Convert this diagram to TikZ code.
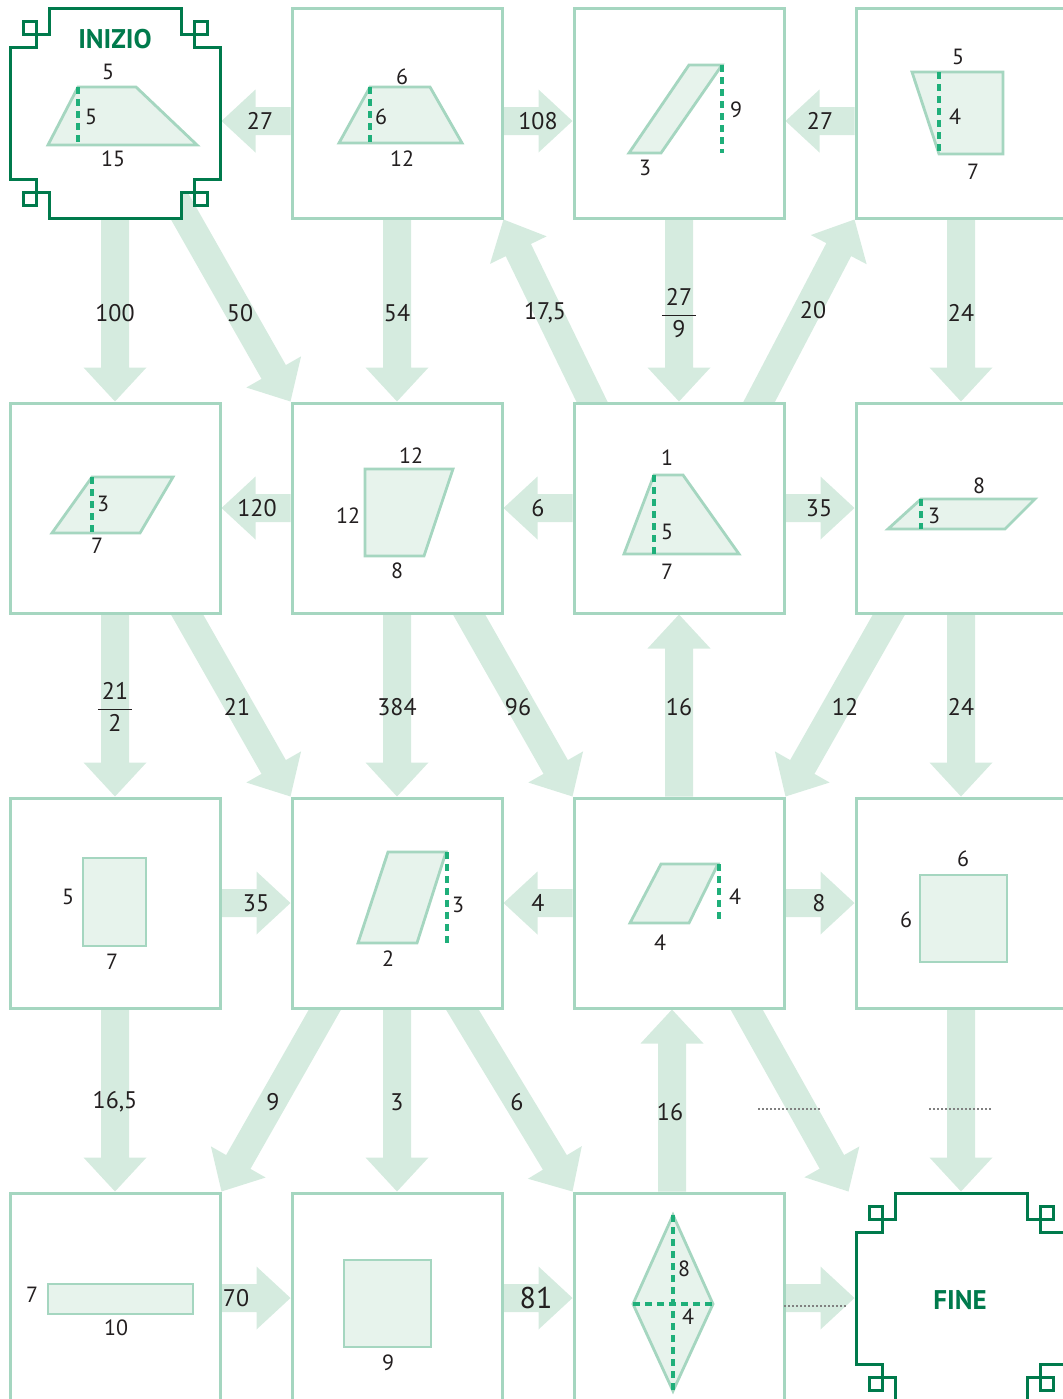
\documentclass[tikz,border=0pt]{standalone}
\usepackage{fontspec}
\setmainfont{PT Sans}
\usetikzlibrary{calc}

\definecolor{boxline}{HTML}{A5D6C0}
\definecolor{arrowbg}{HTML}{D5EBDF}
\definecolor{figfill}{HTML}{E7F3EC}
\definecolor{hgreen}{HTML}{1FAF7A}
\definecolor{darkgreen}{HTML}{007A4C}
\definecolor{ink}{HTML}{231F20}

\pgfdeclarelayer{bg}
\pgfsetlayers{bg,main}

\tikzset{
  box/.style={draw=boxline, line width=1.5pt, fill=white, minimum size=105pt, inner sep=0pt},
  startend/.style={line width=1.5pt, minimum size=105pt, inner sep=0pt},
  keyline/.style={draw=darkgreen, line width=1.5pt},
  keytext/.style={text=darkgreen, font=\bfseries\fontsize{13.5}{15}\selectfont},
  fig/.style={draw=boxline, fill=figfill, line width=1.4pt},
  hgt/.style={draw=hgreen, line width=1.6pt, dash pattern=on 3.5pt off 2.5pt},
  lbl/.style={text=ink, font=\fontsize{11}{13}\selectfont, inner sep=1pt},
  alab/.style={text=ink, font=\fontsize{12}{14}\selectfont, inner sep=1pt},
  blank/.style={draw=gray, line width=1pt, dash pattern=on 1pt off 1pt},
}

% fat arrow: tail, tip
\newcommand\fatarr[2]{%
  \coordinate (ft) at #1;
  \coordinate (fh) at #2;
  \fill[arrowbg] let \p1=($(fh)-(ft)$), \n1={atan2(\y1,\x1)} in
    ($(ft)+(\n1+90:7pt)$) -- ($(fh)+(\n1+180:17pt)+(\n1+90:7pt)$)
    -- ($(fh)+(\n1+180:17pt)+(\n1+90:15.75pt)$) -- (fh)
    -- ($(fh)+(\n1+180:17pt)+(\n1-90:15.75pt)$)
    -- ($(fh)+(\n1+180:17pt)+(\n1-90:7pt)$)
    -- ($(ft)+(\n1-90:7pt)$) -- cycle;
}

% notched frame for start and end
\newcommand\keyframe[1]{%
  \begin{scope}[shift={(#1)}]
    \filldraw[keyline, fill=white] (-105,-66) -- (-79,-66) -- (-79,-79) -- (-66,-79) -- (-66,-105)
      -- (66,-105) -- (66,-79) -- (79,-79) -- (79,-66) -- (105,-66)
      -- (105,66) -- (79,66) -- (79,79) -- (66,79) -- (66,105)
      -- (-66,105) -- (-66,79) -- (-79,79) -- (-79,66) -- (-105,66) -- cycle;
    \foreach \sx/\sy in {-1/-1,1/-1,1/1,-1/1}
      \draw[keyline] (\sx*79,\sy*79) rectangle (\sx*92,\sy*92);
  \end{scope}}

\begin{document}
\begin{tikzpicture}[x=0.5pt, y=-0.5pt]
\useasboundingbox (0,0) rectangle (1063,1399);
\clip (0,0) rectangle (1063,1399);

% boxes
\node[startend] (b00) at (115,113) {};
\node[box] (b01) at (397,113) {};
\node[box] (b02) at (679,113) {};
\node[box] (b03) at (961,113) {};
\node[box] (b10) at (115,508) {};
\node[box] (b11) at (397,508) {};
\node[box] (b12) at (679,508) {};
\node[box] (b13) at (961,508) {};
\node[box] (b20) at (115,903) {};
\node[box] (b21) at (397,903) {};
\node[box] (b22) at (679,903) {};
\node[box] (b23) at (961,903) {};
\node[box] (b30) at (115,1298) {};
\node[box] (b31) at (397,1298) {};
\node[box] (b32) at (679,1298) {};
\node[startend] (b33) at (961,1298) {};
\keyframe{b00}
\keyframe{b33}
\node[keytext] (start) at (115,39) {INIZIO};
\node[keytext] (finish) at (960,1300) {FINE};

% arrows
\begin{pgfonlayer}{bg}
% horizontal
\fatarr{($(b01.west)+(0,8)$)}{($(b00.east)+(0,8)$)}
\fatarr{($(b01.east)+(0,8)$)}{($(b02.west)+(0,8)$)}
\fatarr{($(b03.west)+(0,8)$)}{($(b02.east)+(0,8)$)}
\fatarr{(b11.west)}{(b10.east)}
\fatarr{(b12.west)}{(b11.east)}
\fatarr{(b12.east)}{(b13.west)}
\fatarr{(b20.east)}{(b21.west)}
\fatarr{(b22.west)}{(b21.east)}
\fatarr{(b22.east)}{(b23.west)}
\fatarr{(b30.east)}{(b31.west)}
\fatarr{(b31.east)}{(b32.west)}
\fatarr{(b32.east)}{(b33.west)}
% vertical
\fatarr{(b00.south)}{(b10.north)}
\fatarr{(b10.south)}{(b20.north)}
\fatarr{(b20.south)}{(b30.north)}
\fatarr{(b01.south)}{(b11.north)}
\fatarr{(b11.south)}{(b21.north)}
\fatarr{(b21.south)}{(b31.north)}
\fatarr{(b02.south)}{(b12.north)}
\fatarr{(b22.north)}{(b12.south)}
\fatarr{($(b32.north)+(-7,0)$)}{($(b22.south)+(-7,0)$)}
\fatarr{(b03.south)}{(b13.north)}
\fatarr{(b13.south)}{(b23.north)}
\fatarr{(b23.south)}{(b33.north)}
% diagonal
\fatarr{($(b11.north west)+(-137,-241)$)}{(b11.north west)}
\fatarr{($(b01.south east)+(117,241)$)}{(b01.south east)}
\fatarr{($(b03.south west)+(-126,241)$)}{(b03.south west)}
\fatarr{($(b21.north west)+(-137,-241)$)}{(b21.north west)}
\fatarr{($(b22.north west)+(-137,-241)$)}{(b22.north west)}
\fatarr{($(b22.north east)+(137,-241)$)}{(b22.north east)}
\fatarr{($(b30.north east)+(137,-241)$)}{(b30.north east)}
\fatarr{($(b32.north west)+(-146,-241)$)}{(b32.north west)}
\fatarr{($(b33.north west)+(-141,-241)$)}{($(b33.north west)+(-6,0)$)}
\end{pgfonlayer}

% arrow labels
\node[alab] (a1) at (260,121) {27};
\node[alab] (a2) at (538,121) {108};
\node[alab] (a3) at (820,121) {27};
\node[alab] (a4) at (257,508) {120};
\node[alab] (a5) at (538,508) {6};
\node[alab] (a6) at (819,508) {35};
\node[alab] (a7) at (256,903) {35};
\node[alab] (a8) at (538,903) {4};
\node[alab] (a9) at (819,903) {8};
\node[alab] (a10) at (236,1298) {70};
\node[alab, font=\fontsize{15}{17}\selectfont] (a11) at (536,1298) {81};
\draw[blank] (784,1306) -- (847,1306);
\node[alab] (v1) at (115,313) {100};
\node[alab] (v2) at (240,313) {50};
\node[alab] (v3) at (397,313) {54};
\node[alab] (v4) at (545,313) {17,5};
\node[alab] (v5) at (679,313) {$\displaystyle\frac{\mbox{\,27\,}}{\mbox{9}}$};
\node[alab] (v6) at (813,310) {20};
\node[alab] (v7) at (961,313) {24};
\node[alab] (v8) at (115,707) {$\displaystyle\frac{\mbox{\,21\,}}{\mbox{2}}$};
\node[alab] (v9) at (237,707) {21};
\node[alab] (v10) at (397,707) {384};
\node[alab] (v11) at (518,707) {96};
\node[alab] (v12) at (679,707) {16};
\node[alab] (v13) at (845,707) {12};
\node[alab] (v14) at (961,707) {24};
\node[alab] (v15) at (115,1102) {16,5};
\node[alab] (v16) at (273,1102) {9};
\node[alab] (v17) at (397,1102) {3};
\node[alab] (v18) at (517,1102) {6};
\node[alab] (v19) at (670,1112) {16};
\draw[blank] (758,1109) -- (820,1109);
\draw[blank] (929,1109) -- (991,1109);

% figures, row 0
\filldraw[fig] (78,87) -- (136,87) -- (197,145) -- (48,145) -- cycle;
\draw[hgt] (78,87) -- (78,145);
\node[lbl] (f00a) at (108,72) {5};
\node[lbl] (f00b) at (91,117) {5};
\node[lbl] (f00c) at (113,159) {15};
\filldraw[fig] (370,87) -- (430,87) -- (462,143) -- (339,143) -- cycle;
\draw[hgt] (370,87) -- (370,143);
\node[lbl] (f01a) at (402,77) {6};
\node[lbl] (f01b) at (381,117) {6};
\node[lbl] (f01c) at (402,159) {12};
\filldraw[fig] (689,65) -- (722,65) -- (661,153) -- (629,153) -- cycle;
\draw[hgt] (722,65) -- (722,153);
\node[lbl] (f02a) at (736,110) {9};
\node[lbl] (f02b) at (645,168) {3};
\filldraw[fig] (912,72) -- (1003,72) -- (1003,154) -- (939,154) -- cycle;
\draw[hgt] (939,72) -- (939,154);
\node[lbl] (f03a) at (958,57) {5};
\node[lbl] (f03b) at (955,117) {4};
\node[lbl] (f03c) at (973,172) {7};

% figures, row 1
\filldraw[fig] (92,477) -- (173,477) -- (140,533) -- (52,533) -- cycle;
\draw[hgt] (92,477) -- (92,533);
\node[lbl] (f10a) at (103,504) {3};
\node[lbl] (f10b) at (97,546) {7};
\filldraw[fig] (365,469) -- (453,469) -- (424,556) -- (365,556) -- cycle;
\node[lbl] (f11a) at (411,456) {12};
\node[lbl] (f11b) at (348,516) {12};
\node[lbl] (f11c) at (397,571) {8};
\filldraw[fig] (654,475) -- (683,475) -- (739,554) -- (624,554) -- cycle;
\draw[hgt] (654,475) -- (654,554);
\node[lbl] (f12a) at (667,458) {1};
\node[lbl] (f12b) at (667,532) {5};
\node[lbl] (f12c) at (667,572) {7};
\filldraw[fig] (921,499) -- (1035,499) -- (1005,529) -- (888,529) -- cycle;
\draw[hgt] (921,499) -- (921,529);
\node[lbl] (f13a) at (979,486) {8};
\node[lbl] (f13b) at (934,516) {3};

% figures, row 2
\filldraw[fig] (83,858) rectangle (146,946);
\node[lbl] (f20a) at (68,897) {5};
\node[lbl] (f20b) at (112,962) {7};
\filldraw[fig] (388,852) -- (446,852) -- (417,943) -- (358,943) -- cycle;
\draw[hgt] (447,852) -- (447,943);
\node[lbl] (f21a) at (458,905) {3};
\node[lbl] (f21b) at (388,959) {2};
\filldraw[fig] (661,864) -- (718,864) -- (689,923) -- (630,923) -- cycle;
\draw[hgt] (719,864) -- (719,924);
\node[lbl] (f22a) at (735,897) {4};
\node[lbl] (f22b) at (660,943) {4};
\filldraw[fig] (920,875) rectangle (1007,962);
\node[lbl] (f23a) at (963,859) {6};
\node[lbl] (f23b) at (906,920) {6};

% figures, row 3
\filldraw[fig] (48,1284) rectangle (193,1314);
\node[lbl] (f30a) at (32,1295) {7};
\node[lbl] (f30b) at (116,1328) {10};
\filldraw[fig] (344,1260) rectangle (431,1347);
\node[lbl] (f31a) at (388,1363) {9};
\filldraw[fig] (673,1215) -- (713,1304) -- (673,1391) -- (633,1304) -- cycle;
\draw[hgt] (673,1215) -- (673,1391);
\draw[hgt] (633,1304) -- (713,1304);
\node[lbl] (f32a) at (684,1269) {8};
\node[lbl] (f32b) at (688,1317) {4};
\end{tikzpicture}
\end{document}
